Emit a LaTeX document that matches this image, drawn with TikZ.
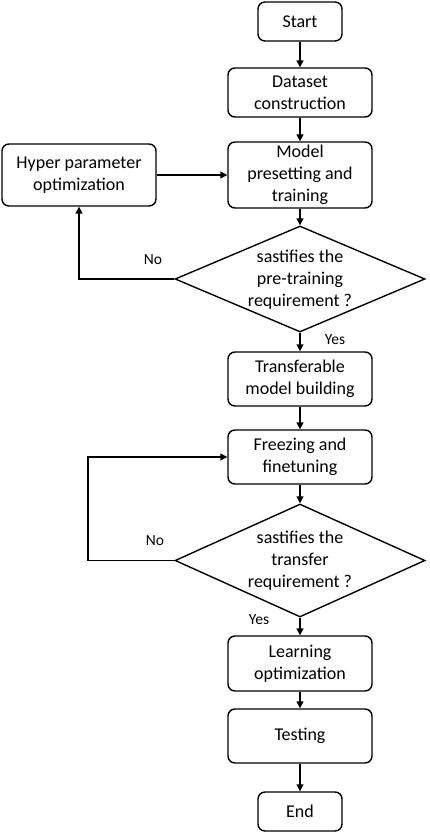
\documentclass[tikz,border=0pt]{standalone}
\usepackage{fontspec}
\setmainfont{Carlito}
\usetikzlibrary{shapes.geometric,arrows.meta}
\begin{document}
\begin{tikzpicture}[x=1pt,y=-1pt,
  box/.style={draw,line width=1.4pt,rounded corners=7pt,align=center,inner sep=0pt,
    font=\fontsize{18}{22}\selectfont},
  dia/.style={draw,line width=1.4pt,diamond,inner sep=0pt},
  dtext/.style={align=center,font=\fontsize{18}{22}\selectfont},
  lab/.style={font=\fontsize{15.5}{18}\selectfont},
  arr/.style={line width=1.4pt,-{Triangle[length=7pt,width=7pt]}}]
\useasboundingbox (0,0) rectangle (429,834);
\node[box,minimum width=84pt,minimum height=39pt] (start) at (300,21.5) {Start};
\node[box,minimum width=144pt,minimum height=49pt] (data) at (300,92.5) {Dataset\\construction};
\node[box,minimum width=144pt,minimum height=66pt] (model) at (300,175) {Model\\presetting and\\training};
\node[box,minimum width=154pt,minimum height=62pt] (hyper) at (79,175) {Hyper parameter\\optimization};
\node[dia,minimum width=250pt,minimum height=106pt] (d1) at (300,279) {};
\node[dtext] (d1t) at (300,280) {sastifies the\\pre-training\\requirement ?};
\node[box,minimum width=144pt,minimum height=54pt] (trans) at (300,379) {Transferable\\model building};
\node[box,minimum width=144pt,minimum height=54pt] (freeze) at (300,457) {Freezing and\\finetuning};
\node[dia,minimum width=250pt,minimum height=113pt] (d2) at (300,560.5) {};
\node[dtext] (d2t) at (300,561) {sastifies the\\transfer\\requirement ?};
\node[box,minimum width=144pt,minimum height=55pt] (learn) at (300,663.5) {Learning\\optimization};
\node[box,minimum width=144pt,minimum height=54pt] (test) at (300,736) {Testing};
\node[box,minimum width=84pt,minimum height=39pt] (end) at (300,811.5) {End};
\coordinate (c2) at (88,560.5);
\node[lab] (no1) at (153,260) {No};
\node[lab] (no2) at (155,541) {No};
\node[lab] (yes1) at (335,340) {Yes};
\node[lab] (yes2) at (259,620) {Yes};
\draw[arr] (start) -- (data);
\draw[arr] (data) -- (model);
\draw[arr] (hyper) -- (model);
\draw[arr] (model) -- (d1.north);
\draw[arr] (d1.west) -| (hyper.south);
\draw[arr] (d1.south) -- (trans);
\draw[arr] (trans) -- (freeze);
\draw[arr] (freeze) -- (d2.north);
\draw[arr] (d2.west) -- (c2) |- (freeze.west);
\draw[arr] (d2.south) -- (learn);
\draw[arr] (learn) -- (test);
\draw[arr] (test) -- (end);
\end{tikzpicture}
\end{document}
